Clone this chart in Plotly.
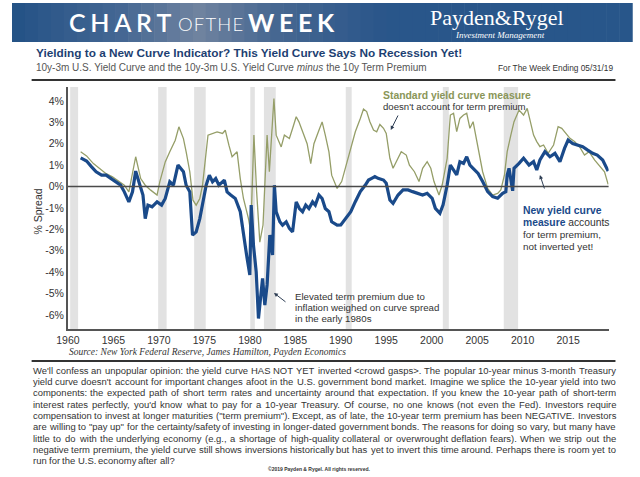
import plotly.graph_objects as go

# ---------------- data ----------------
std_year = [1961.4, 1962.05, 1962.8, 1963.5, 1964.2, 1964.9, 1965.6, 1966.2, 1966.7, 1967.45,
            1968.0, 1968.5, 1969.1, 1969.8, 1970.1, 1970.7, 1971.2, 1971.8, 1972.2, 1972.7,
            1973.0, 1973.4, 1973.75, 1974.1, 1974.5, 1974.8, 1975.4, 1975.9, 1976.4, 1977.0,
            1977.3, 1977.7, 1978.05, 1978.6, 1978.95, 1979.3, 1979.85, 1980.1, 1980.45, 1980.75,
            1981.1, 1981.45, 1981.9, 1982.15, 1982.65, 1982.9, 1983.45, 1983.8, 1984.35, 1984.7,
            1985.1, 1985.4, 1985.8, 1986.3, 1986.7, 1987.05, 1987.6, 1987.95, 1988.3, 1988.7,
            1989.0, 1989.6, 1990.1, 1990.5, 1991.1, 1991.6, 1992.15, 1992.5, 1992.85, 1993.2,
            1993.6, 1993.95, 1994.3, 1994.7, 1995.0, 1995.4, 1995.75, 1996.3, 1996.65, 1997.2,
            1997.55, 1998.1, 1998.6, 1999.0, 1999.5, 1999.9, 2000.25, 2000.8, 2001.15, 2001.7,
            2002.05, 2002.4, 2002.75, 2003.1, 2003.5, 2003.85, 2004.2, 2004.55, 2004.9, 2005.3,
            2005.6, 2006.15, 2006.7, 2007.25, 2007.6, 2008.0, 2008.3, 2008.7, 2009.05, 2009.6,
            2010.1, 2010.5, 2010.85, 2011.2, 2011.55, 2011.9, 2012.3, 2012.8, 2013.4, 2013.9,
            2014.3, 2014.6, 2015.2, 2015.7, 2016.25, 2016.8, 2017.3, 2017.9, 2018.4, 2019.0, 2019.4]
std_value = [1.62, 1.43, 1.07, 0.84, 0.60, 0.45, 0.22, 0.06, -0.25, 1.39,
             0.37, 0.06, -0.17, -0.40, 0.22, 1.15, 1.62, 2.16, 2.79, 2.24,
             1.62, 0.69, -0.64, -0.87, -0.56, 0.06, 2.40, 2.48, 2.55, 2.48,
             2.63, 1.93, 1.39, 1.62, 0.37, -0.56, -1.50, -2.10, 2.40, -0.25,
             -2.60, -1.80, 2.40, 0.69, 4.11, 2.40, 1.85, 2.40, 2.24, 2.71,
             3.26, 3.02, 2.55, 2.00, 1.07, 2.00, 2.63, 3.02, 2.40, 1.62,
             0.53, -0.09, 0.23, 0.85, 1.78, 2.56, 3.18, 3.62, 3.50, 3.03,
             2.64, 2.56, 2.90, 2.72, 2.48, 1.32, 0.85, 1.32, 1.63, 1.47,
             1.00, 0.69, 0.23, 0.85, 1.16, 0.85, 0.23, -0.40, 0.07, 1.32,
             3.34, 3.42, 2.56, 3.18, 3.34, 3.42, 2.72, 3.03, 2.25, 1.47,
             0.69, -0.09, -0.40, -0.32, -0.16, 0.54, 1.63, 2.40, 3.03, 3.57,
             3.34, 3.65, 3.03, 2.40, 2.10, 1.86, 1.94, 1.55, 1.94, 2.80,
             2.72, 2.56, 2.25, 2.10, 1.86, 1.47, 1.63, 1.24, 1.00, 0.69, 0.10]

new_year = [1961.4, 1962.05, 1962.6, 1963.1, 1963.7, 1964.2, 1964.75, 1965.3, 1965.8, 1966.2,
            1966.7, 1967.1, 1967.45, 1967.8, 1968.25, 1968.5, 1968.8, 1969.25, 1969.8, 1970.3,
            1970.7, 1971.2, 1971.6, 1972.1, 1972.7, 1973.0, 1973.4, 1973.7, 1974.1, 1974.5,
            1974.8, 1975.2, 1975.55, 1975.9, 1976.25, 1976.6, 1977.2, 1977.5, 1977.9, 1978.4,
            1978.95, 1979.3, 1979.7, 1980.0, 1980.15, 1980.4, 1980.7, 1980.95, 1981.2, 1981.4,
            1981.65, 1981.9, 1982.2, 1982.5, 1982.7, 1982.9, 1983.3, 1983.6, 1984.0, 1984.35,
            1984.7, 1985.1, 1985.45, 1985.8, 1986.15, 1986.5, 1986.9, 1987.2, 1987.6, 1987.95,
            1988.3, 1988.7, 1989.0, 1989.6, 1990.0, 1990.5, 1991.1, 1991.6, 1992.15, 1992.7,
            1993.05, 1993.4, 1993.75, 1994.1, 1994.7, 1995.0, 1995.4, 1995.75, 1996.3, 1996.85,
            1997.4, 1997.9, 1998.45, 1999.0, 1999.5, 2000.05, 2000.4, 2000.9, 2001.25, 2001.7,
            2002.05, 2002.4, 2002.75, 2003.1, 2003.5, 2003.85, 2004.2, 2004.55, 2005.1, 2005.6,
            2006.15, 2006.7, 2007.25, 2007.8, 2008.15, 2008.3, 2008.5, 2008.9, 2009.05, 2009.6,
            2010.1, 2010.7, 2011.2, 2011.55, 2011.9, 2012.45, 2013.0, 2013.55, 2014.1, 2014.6,
            2015.0, 2015.5, 2016.1, 2016.6, 2017.15, 2017.7, 2018.2, 2018.8, 2019.4]
new_value = [1.34, 1.19, 0.92, 0.69, 0.53, 0.53, 0.37, 0.22, 0.06, -0.25,
             -0.72, -0.25, 0.72, 0.22, -0.40, -1.50, -0.87, -0.95, -0.72, -0.87,
             -0.56, 0.22, 0.06, 1.00, 0.69, 0.06, -0.25, -2.27, -2.12, -1.50,
             -0.87, 0.06, 0.53, 0.22, 0.37, 0.06, 0.30, -0.25, -0.40, -0.56,
             -1.18, -2.27, -3.36, -4.14, -0.87, -2.74, -3.99, -6.17, -4.92, -4.30,
             -5.54, -4.60, -2.27, -3.20, 0.06, -1.18, -1.65, -1.81, -1.65, -1.96,
             -2.12, -0.72, -1.03, -1.18, -0.87, -1.03, -0.72, -0.87, -0.40, -0.56,
             -1.03, -1.18, -1.65, -1.81, -1.80, -1.49, -1.18, -0.71, -0.24, 0.07,
             0.30, 0.38, 0.46, 0.38, 0.30, 0.15, -0.63, -0.79, -0.40, -0.16,
             -0.16, -0.24, -0.32, -0.40, -0.32, -0.55, -1.02, -1.25, -0.86, 0.07,
             1.00, 0.77, 0.54, 1.16, 1.08, 1.39, 1.00, 0.85, 0.61, 0.23,
             -0.24, -0.47, -0.55, -0.32, -0.24, 0.54, 0.85, -0.20, 0.85, 1.08,
             1.32, 1.00, 1.16, 0.77, 1.24, 1.63, 1.39, 1.55, 1.16, 1.78,
             2.17, 2.01, 1.94, 1.86, 1.70, 1.55, 1.47, 1.24, 0.72]

recession_start = [1960.25, 1969.92, 1973.88, 1980.05, 1981.55, 1990.55, 2001.22, 2007.92]
recession_end = [1961.12, 1970.85, 1975.15, 1980.55, 1982.85, 1991.2, 2001.88, 2009.5]

x_ticks = [1960, 1965, 1970, 1975, 1980, 1985, 1990, 1995, 2000, 2005, 2010, 2015]
y_ticks = [-6, -5, -4, -3, -2, -1, 0, 1, 2, 3, 4]
y_tick_text = [f"{v}%" for v in y_ticks]

title = "Yielding to a New Curve Indicator? This Yield Curve Says No Recession Yet!"
subtitle = "10y-3m U.S. Yield Curve and the 10y-3m U.S. Yield Curve <i>minus</i> the 10y Term Premium"
week_label = "For The Week Ending 05/31/19"
source = "Source: New York Federal Reserve, James Hamilton, Payden Economics"
body_lines = [
    "We'll confess an unpopular opinion: the yield curve HAS NOT YET inverted <crowd gasps>. The popular 10-year minus 3-month Treasury",
    "yield curve doesn't account for important changes afoot in the U.S. government bond market. Imagine we splice the 10-year yield into two",
    "components: the expected path of short term rates and uncertainty around that expectation. If you knew the 10-year path of short-term",
    "interest rates perfectly, you'd know what to pay for a 10-year Treasury. Of course, no one knows (not even the Fed). Investors require",
    "compensation to invest at longer maturities (\"term premium\"). Except, as of late, the 10-year term premium has been NEGATIVE. Investors",
    "are willing to \"pay up\" for the certainty/safety of investing in longer-dated government bonds. The reasons for doing so vary, but many have",
    "little to do with the underlying economy (e.g., a shortage of high-quality collateral or overwrought deflation fears). When we strip out the",
    "negative term premium, the yield curve still shows inversions historically but has yet to invert this time around. Perhaps there is room yet to",
    "run for the U.S. economy after all?",
]

# ---------------- geometry helpers ----------------
W, H = 640, 477


def px(x):
    return x / W


def py(y):
    return 1 - y / H


OLIVE = "#959e68"
NAVY = "#1a4a8a"
SANS = "Liberation Sans, Arial, sans-serif"
SERIF = "Liberation Serif, Times New Roman, serif"

fig = go.Figure()
fig.add_trace(go.Scatter(x=std_year, y=std_value, mode="lines",
                         line=dict(color=OLIVE, width=1.3), hoverinfo="skip"))
fig.add_trace(go.Scatter(x=new_year, y=new_value, mode="lines",
                         line=dict(color=NAVY, width=3.2), hoverinfo="skip"))

shapes = []
for s, e in zip(recession_start, recession_end):
    shapes.append(dict(type="rect", xref="x", yref="y domain", x0=s, x1=e, y0=0, y1=1,
                       fillcolor="#e2e2e2", line=dict(width=0), layer="below"))
shapes.append(dict(type="line", xref="x domain", yref="y", x0=0, x1=1, y0=0, y1=0,
                   line=dict(color="#4a4a4a", width=1.6)))

# banner gradient strips
keys = [(0.0, (36, 82, 134)), (0.18, (70, 104, 148)), (0.30, (112, 132, 160)),
        (0.42, (72, 104, 146)), (0.6, (42, 86, 138)), (1.0, (40, 86, 138))]


def grad(t):
    for (t0, c0), (t1, c1) in zip(keys[:-1], keys[1:]):
        if t0 <= t <= t1:
            f = (t - t0) / (t1 - t0)
            return tuple(int(a + (b - a) * f) for a, b in zip(c0, c1))
    return keys[-1][1]


n = 48
bx0, bx1 = 0, 632
for i in range(n):
    xa = bx0 + (bx1 - bx0) * i / n
    xb = bx0 + (bx1 - bx0) * (i + 1) / n + 0.6
    c = grad((i + 0.5) / n)
    shapes.append(dict(type="rect", xref="paper", yref="paper", x0=px(xa), x1=px(xb),
                       y0=py(42), y1=py(3), fillcolor="rgb(%d,%d,%d)" % c, line=dict(width=0),
                       layer="below"))
# rules
shapes.append(dict(type="line", xref="paper", yref="paper", x0=px(20), x1=px(615), y0=py(80), y1=py(80),
                   line=dict(color="#333333", width=2)))
shapes.append(dict(type="line", xref="paper", yref="paper", x0=px(20), x1=px(615), y0=py(361), y1=py(361),
                   line=dict(color="#333333", width=2)))

ann = []


def text(x, y, s, size, color="#333333", family=SANS, xanchor="left", weight=None, yanchor="middle", **kw):
    f = dict(size=size, color=color, family=family)
    if weight:
        f["weight"] = weight
    ann.append(dict(xref="paper", yref="paper", x=px(x), y=py(y), text=s, showarrow=False,
                    xanchor=xanchor, yanchor=yanchor, font=f, borderpad=0, **kw))


# banner text
SP = "\u2009\u200a"
HS = "\u200a"
LATO = "Lato, Open Sans, sans-serif"
text(57, 22, SP.join("CHART"), 25, color="white", family=LATO, weight=600)
text(168, 23.5, HS.join("OFTHE"), 18.5, color="white", family=LATO, weight=300)
text(239, 22, SP.join("WEEK"), 25, color="white", family=LATO, weight=700)
text(494, 18, "Payden&amp;Rygel", 22, color="white", family=SERIF, xanchor="center")
text(497, 35, "<i>Investment Management</i>", 9, color="white", family=SERIF, xanchor="center")

# titles
text(23, 53, "<b>" + title + "</b>", 11.8, color="#1d3f72")
text(23, 67, subtitle, 10, color="#555555")
text(613, 68, week_label, 8.3, color="#333333", xanchor="right")

# chart annotations
text(377, 95, "<b>Standard yield curve measure</b>", 10.4, color="#8a9658")
text(377, 106.5, "doesn't account for term premium", 9.6)
text(520, 210, "<b>New yield curve</b>", 10.4, color=NAVY)
text(520, 222, "<b>measure</b><span style='color:#333333'> accounts</span>", 10.3, color=NAVY)
text(520, 234, "for term premium,", 9.9)
text(520, 246.5, "not inverted yet!", 9.9)
text(287, 296, "Elevated term premium due to", 9.7)
text(287, 307.3, "inflation weighed on curve spread", 9.7)
text(287, 318.6, "in the early 1980s", 9.7)

# arrows
for (hx, hy, tx, ty) in [(386, 130, 394, 114), (538, 175, 543, 190), (267, 293, 280, 303)]:
    ann.append(dict(xref="paper", yref="paper", x=px(hx), y=py(hy), ax=tx - hx, ay=ty - hy,
                    axref="pixel", ayref="pixel", text="", showarrow=True, arrowhead=2,
                    arrowsize=0.8, arrowwidth=1, arrowcolor="#2f3f55"))

# y-axis title
ann.append(dict(xref="paper", yref="paper", x=px(26), y=py(212), text="% Spread", showarrow=False,
                textangle=-90, xanchor="center", yanchor="middle",
                font=dict(size=10.5, color="#333333", family=SANS)))

# source
text(57, 352, "<i>" + source + "</i>", 9.5, family=SERIF)

# body text, justified using Arial/Helvetica advance widths
AW = {' ': 278, '!': 278, '"': 355, "'": 191, '(': 333, ')': 333, ',': 278, '-': 333, '.': 278,
      '/': 278, ':': 278, ';': 278, '<': 584, '>': 584, '?': 556, '&': 667}
for ch in "0123456789":
    AW[ch] = 556
AW.update(dict(zip("ABCDEFGHIJKLMNOPQRSTUVWXYZ",
                   [667, 667, 722, 722, 667, 611, 778, 722, 278, 500, 667, 556, 833, 722, 778, 667,
                    778, 722, 667, 611, 722, 667, 944, 667, 667, 611])))
AW.update(dict(zip("abcdefghijklmnopqrstuvwxyz",
                   [556, 556, 500, 556, 556, 278, 556, 556, 222, 222, 500, 222, 833, 556, 556, 556,
                    556, 333, 500, 278, 556, 500, 722, 500, 500, 500])))


def wlen(s):
    return sum(AW.get(c, 556) for c in s) / 1000.0


def esc(s):
    return s.replace("&", "&amp;").replace("<", "&lt;").replace(">", "&gt;")


BX0, BX1 = 20, 614
BW = BX1 - BX0
fs = 10.0
for s in body_lines[:-1]:
    words = s.split(" ")
    need = sum(wlen(w) for w in words) + 0.34 * (len(words) - 1)
    fs = min(fs, BW / need)

line_y = [370, 381.3, 392.6, 404, 415.3, 426.6, 438, 449.3, 460.6]
for idx, (s, yy) in enumerate(zip(body_lines, line_y)):
    words = s.split(" ")
    last = idx == len(body_lines) - 1
    widths = [wlen(w) * fs for w in words]
    gap = (BW - sum(widths)) / (len(words) - 1) if not last else wlen(" ") * fs
    xx = BX0
    for w, ww in zip(words, widths):
        text(xx, yy, esc(w), fs)
        xx += ww + gap

text(313, 469, "<b>\u00a92019 Payden &amp; Rygel. All rights reserved.</b>", 5, xanchor="center")

fig.update_layout(
    width=W, height=H, margin=dict(l=0, r=0, t=0, b=0),
    paper_bgcolor="white", plot_bgcolor="white", showlegend=False,
    shapes=shapes, annotations=ann,
    xaxis=dict(domain=[px(57), px(608)], range=[1960.0, 2019.45], tickvals=x_ticks,
               showgrid=False, zeroline=False, showline=True, linecolor="#555555", linewidth=2,
               ticks="", tickfont=dict(size=10.5, color="#333333", family=SANS)),
    yaxis=dict(domain=[py(329), py(87)], range=[-6.66, 4.65], tickvals=y_ticks, ticktext=y_tick_text,
               showgrid=False, zeroline=False, showline=True, linecolor="#555555", linewidth=2,
               ticks="", tickfont=dict(size=10.5, color="#333333", family=SANS)),
)

fig.write_html("out.html", config={"displayModeBar": False},
               post_script="document.body.style.margin='0px';")
